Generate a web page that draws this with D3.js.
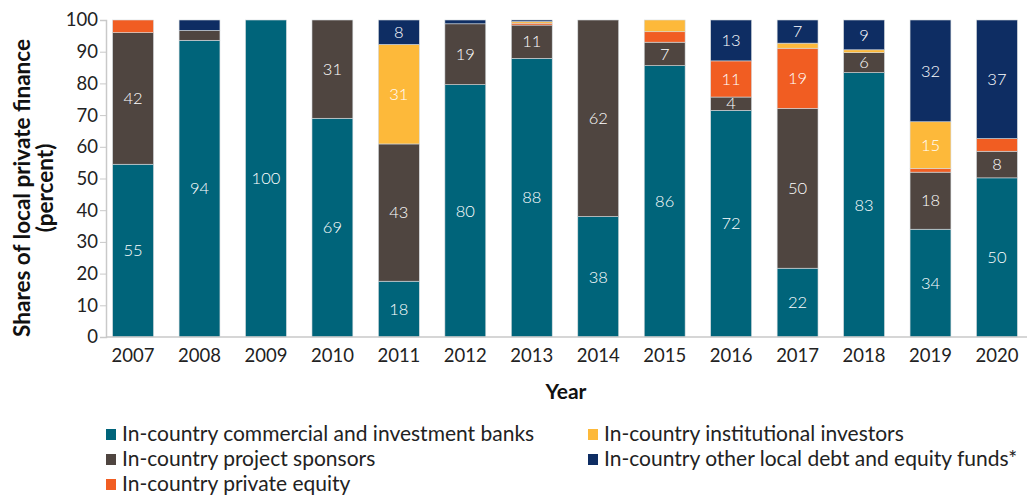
<!DOCTYPE html>
<html>
<head>
<script src="https://d3js.org/d3.v7.min.js"></script>
<style>
body { margin: 0; background: #fff; }
text { font-family: Lato, "Open Sans", sans-serif; }
</style>
</head>
<body>
<div id="chart"></div>
<script>
// data (percent shares)
var years = ["2007","2008","2009","2010","2011","2012","2013","2014","2015","2016","2017","2018","2019","2020"];
var banks       = [54.5, 93.6, 100, 69, 17.6, 79.6, 87.9, 38, 85.6, 71.5, 21.7, 83.4, 34.0, 50.2];
var sponsors    = [41.5, 3.1,  0,   31, 43.3, 19.2, 10.5, 62, 7.4,  4.2,  50.4, 6.3,  18.0, 8.4];
var privEquity  = [4.0,  0,    0,   0,  0,    0,    0.6,  0,  3.3,  11.4, 19.0, 0,    1.2,  4.0];
var instInv     = [0,    0,    0,   0,  31.4, 0,    0.5,  0,  3.7,  0,    1.6,  0.9,  14.7, 0];
var otherFunds  = [0,    3.3,  0,   0,  7.7,  1.2,  0.5,  0,  0,    12.9, 7.3,  9.4,  32.1, 37.4];
var yTicks = [0,10,20,30,40,50,60,70,80,90,100];

var seriesNames = [
  "In-country commercial and investment banks",
  "In-country project sponsors",
  "In-country private equity",
  "In-country institutional investors",
  "In-country other local debt and equity funds*"
];
var seriesValues = [banks, sponsors, privEquity, instInv, otherFunds];
var colors = ["#00647a", "#4f4540", "#f15d22", "#fdb93a", "#0e2d63"];

var W = 1027, H = 498;
var svg = d3.select("#chart").append("svg")
    .attr("width", W)
    .attr("height", H);

var x = d3.scaleBand()
    .domain(years)
    .range([100, 1030])
    .paddingInner(0.385)
    .paddingOuter(0.19);

var y = d3.scaleLinear()
    .domain([0, 100])
    .range([337, 20]);

// build rows for the stack
var rows = years.map(function(yr, i) {
    var r = {year: yr};
    seriesNames.forEach(function(s, k) { r[s] = seriesValues[k][i]; });
    return r;
});
var stacked = d3.stack().keys(seriesNames)(rows);

var groups = svg.selectAll("g.series")
    .data(stacked)
    .enter().append("g")
    .attr("class", "series")
    .attr("fill", function(d, k) { return colors[k]; });

groups.selectAll("rect")
    .data(function(d) { return d; })
    .enter().append("rect")
    .filter(function(d) { return d[1] - d[0] > 0; })
    .attr("x", function(d) { return x(d.data.year); })
    .attr("y", function(d) { return y(d[1]); })
    .attr("width", x.bandwidth())
    .attr("height", function(d) { return y(d[0]) - y(d[1]); })
    .attr("stroke", "#d5dadd")
    .attr("stroke-width", 0.6);

// segment labels
groups.selectAll("text")
    .data(function(d) { return d; })
    .enter().append("text")
    .filter(function(d) { return d[1] - d[0] > 4.05; })
    .attr("x", function(d) { return x(d.data.year) + x.bandwidth() / 2; })
    .attr("y", function(d) { return (y(d[0]) + y(d[1])) / 2; })
    .attr("dy", "0.35em")
    .attr("text-anchor", "middle")
    .attr("fill", "#fff")
    .attr("font-size", "16.5px")
    .attr("font-weight", 300)
    .text(function(d) { return Math.round(d[1] - d[0]); });

// axes
var yAxis = svg.append("g")
    .attr("transform", "translate(106,0)")
    .call(d3.axisLeft(y).tickValues(yTicks).tickSize(6).tickPadding(2));
yAxis.select(".domain").attr("stroke", "#c9c9c9").attr("stroke-width", 1.5);
yAxis.selectAll(".tick line").attr("stroke", "#c9c9c9");
yAxis.selectAll(".tick text")
    .attr("font-size", "18.5px")
    .attr("fill", "#222")
    .style("font-family", "Lato, sans-serif");

var xAxis = svg.append("g")
    .attr("transform", "translate(0,337)")
    .call(d3.axisBottom(x).tickSize(0).tickPadding(12));
xAxis.select(".domain").attr("stroke", "#c9c9c9").attr("stroke-width", 1.5)
    .attr("d", "M106,0H1027");
xAxis.selectAll(".tick text")
    .attr("font-size", "18.5px")
    .attr("fill", "#222")
    .style("font-family", "Lato, sans-serif");

// axis titles
svg.append("text")
    .attr("x", 566)
    .attr("y", 399)
    .attr("text-anchor", "middle")
    .attr("font-size", "21px")
    .attr("font-weight", "bold")
    .attr("fill", "#111")
    .text("Year");

var yt = svg.append("text")
    .attr("transform", "translate(22,188) rotate(-90)")
    .attr("text-anchor", "middle")
    .attr("font-size", "22.5px")
    .attr("font-weight", "bold")
    .attr("fill", "#111");
yt.append("tspan").attr("x", 0).attr("dy", "0.35em").text("Shares of local private finance");
yt.append("tspan").attr("x", 0).attr("dy", "1.02em").text("(percent)");

// legend
var legendPos = [[106, 434], [106, 459], [106, 484], [588, 434], [588, 459]];
var legend = svg.selectAll("g.legend")
    .data(seriesNames)
    .enter().append("g")
    .attr("class", "legend")
    .attr("transform", function(d, k) { return "translate(" + legendPos[k][0] + "," + legendPos[k][1] + ")"; });

legend.append("rect")
    .attr("x", 0)
    .attr("y", -5)
    .attr("width", 10)
    .attr("height", 11)
    .attr("fill", function(d, k) { return colors[k]; });

legend.append("text")
    .attr("x", 16)
    .attr("dy", "0.35em")
    .attr("font-size", "21px")
    .attr("fill", "#222")
    .text(function(d) { return d; });
</script>
</body>
</html>
